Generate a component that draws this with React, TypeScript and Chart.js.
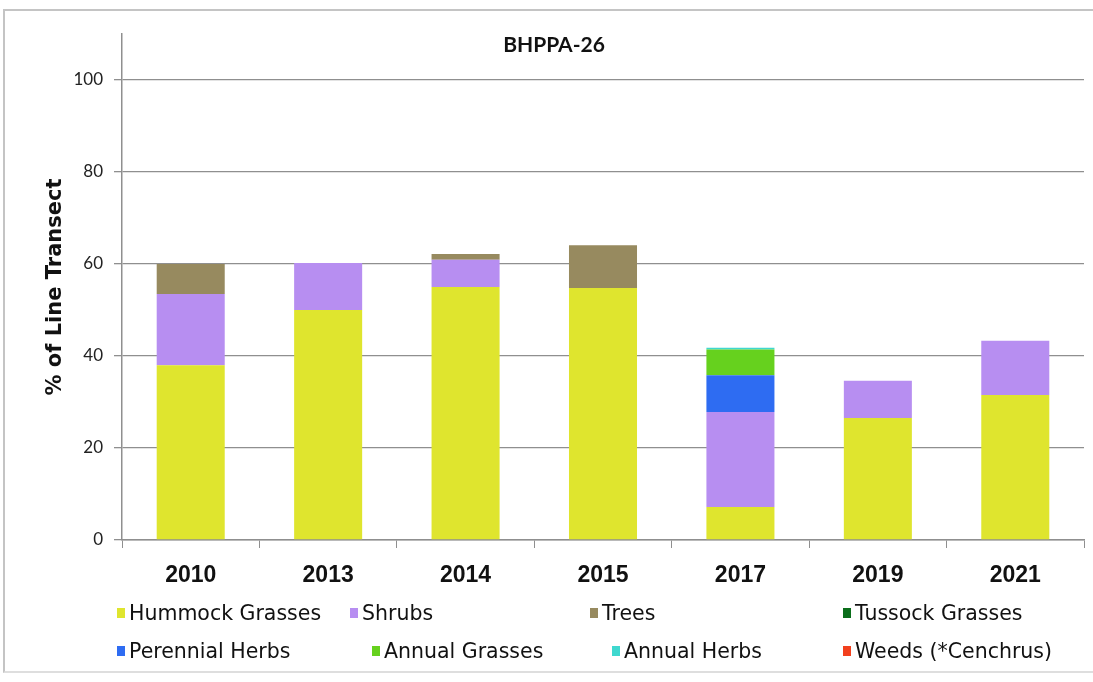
import React, { useEffect, useRef } from "react";
import { Chart, registerables } from "chart.js";

Chart.register(...registerables);

const categories = ["2010", "2013", "2014", "2015", "2017", "2019", "2021"];
const seriesNames = [
  "Hummock Grasses",
  "Shrubs",
  "Trees",
  "Tussock Grasses",
  "Perennial Herbs",
  "Annual Grasses",
  "Annual Herbs",
  "Weeds (*Cenchrus)",
];
const hummockGrasses = [38, 50, 55, 54.8, 7.2, 26.5, 31.5];
const shrubs = [15.5, 10.2, 5.9, 0, 20.6, 8.1, 11.8];
const trees = [6.5, 0, 1.3, 9.3, 0, 0, 0];
const tussockGrasses = [0, 0, 0, 0, 0, 0, 0];
const perennialHerbs = [0, 0, 0, 0, 8, 0, 0];
const annualGrasses = [0, 0, 0, 0, 5.6, 0, 0];
const annualHerbs = [0, 0, 0, 0, 0.4, 0, 0];
const weeds = [0, 0, 0, 0, 0, 0, 0];
const yTicks = [0, 20, 40, 60, 80, 100];

const seriesValues = [
  hummockGrasses,
  shrubs,
  trees,
  tussockGrasses,
  perennialHerbs,
  annualGrasses,
  annualHerbs,
  weeds,
];
const seriesColors = [
  "#dfe52e",
  "#b78ef1",
  "#978a5f",
  "#0b6e1b",
  "#2e6cf2",
  "#66d11e",
  "#3fd8cf",
  "#f2401d",
];

// legend layout (left of marker, row centre)
const legendLeft = [117, 350, 590, 843, 117, 372, 612, 843];
const legendRowCenter = [613, 651];

export default function App() {
  const canvasRef = useRef<HTMLCanvasElement | null>(null);

  useEffect(() => {
    const canvas = canvasRef.current;
    if (!canvas) return;
    const chart = new Chart(canvas, {
      type: "bar",
      data: {
        labels: categories,
        datasets: seriesNames.map((name, i) => ({
          label: name,
          data: seriesValues[i],
          backgroundColor: seriesColors[i],
          borderWidth: 0,
          barPercentage: 1,
          categoryPercentage: 0.495,
        })),
      },
      options: {
        animation: false,
        responsive: false,
        maintainAspectRatio: false,
        layout: { padding: { top: 34, right: 9, bottom: 82, left: 0 } },
        plugins: {
          legend: { display: false },
          title: { display: false },
          tooltip: { enabled: false },
        },
        scales: {
          x: {
            stacked: true,
            grid: {
              display: true,
              drawOnChartArea: false,
              drawTicks: true,
              tickLength: 8,
              color: "#8f8f8f",
              offset: true,
            },
            border: { display: true, color: "#8f8f8f", width: 1.5 },
            ticks: {
              color: "#111",
              padding: 14,
              font: { family: "'Liberation Sans', Arial, sans-serif", size: 23, weight: "bold" },
            },
            afterFit: (s: any) => {
              s.height = 60;
            },
          },
          y: {
            stacked: true,
            min: 0,
            max: 110,
            afterBuildTicks: (s: any) => {
              s.ticks = yTicks.map((v) => ({ value: v }));
            },
            ticks: {
              color: "#222",
              padding: 11,
              font: { family: "Lato, sans-serif", size: 17 },
            },
            grid: { color: "#8f8f8f", lineWidth: 1.3, tickLength: 8 },
            border: { display: true, color: "#8f8f8f", width: 1.5 },
            title: {
              display: true,
              text: "% of Line Transect",
              color: "#111",
              padding: { top: 43, bottom: 0 },
              font: { family: "'DejaVu Sans', sans-serif", size: 21, weight: "bold" },
            },
            afterFit: (s: any) => {
              s.width = 122;
            },
          },
        },
      },
    });
    return () => chart.destroy();
  }, []);

  return (
    <div
      style={{
        position: "absolute",
        left: 0,
        top: 0,
        width: 1093,
        height: 682,
        overflow: "hidden",
        background: "#fff",
      }}
    >
      <div
        style={{
          position: "absolute",
          left: 3,
          top: 9,
          width: 1110,
          height: 664,
          borderTop: "2px solid #c4c4c4",
          borderLeft: "2px solid #c4c4c4",
          borderBottom: "2px solid #dedede",
          boxSizing: "border-box",
        }}
      />
      <canvas
        ref={canvasRef}
        width={1093}
        height={682}
        style={{ position: "absolute", left: 0, top: 0, width: 1093, height: 682 }}
      />
      <div
        style={{
          position: "absolute",
          left: 454,
          top: 30,
          width: 200,
          textAlign: "center",
          fontFamily: "Lato, sans-serif",
          fontWeight: "bold",
          fontSize: 21,
          lineHeight: "28px",
          color: "#111",
        }}
      >
        BHPPA-26
      </div>
      {seriesNames.map((name, i) => (
        <div
          key={name}
          style={{
            position: "absolute",
            left: legendLeft[i],
            top: legendRowCenter[Math.floor(i / 4)] - 14,
            height: 28,
            display: "flex",
            alignItems: "center",
            whiteSpace: "nowrap",
            fontFamily: "'DejaVu Sans', sans-serif",
            fontSize: 20.5,
            color: "#111",
          }}
        >
          <span
            style={{
              display: "inline-block",
              width: 8,
              height: 10,
              background: seriesColors[i],
              marginRight: 4,
            }}
          />
          <span>{name}</span>
        </div>
      ))}
    </div>
  );
}
